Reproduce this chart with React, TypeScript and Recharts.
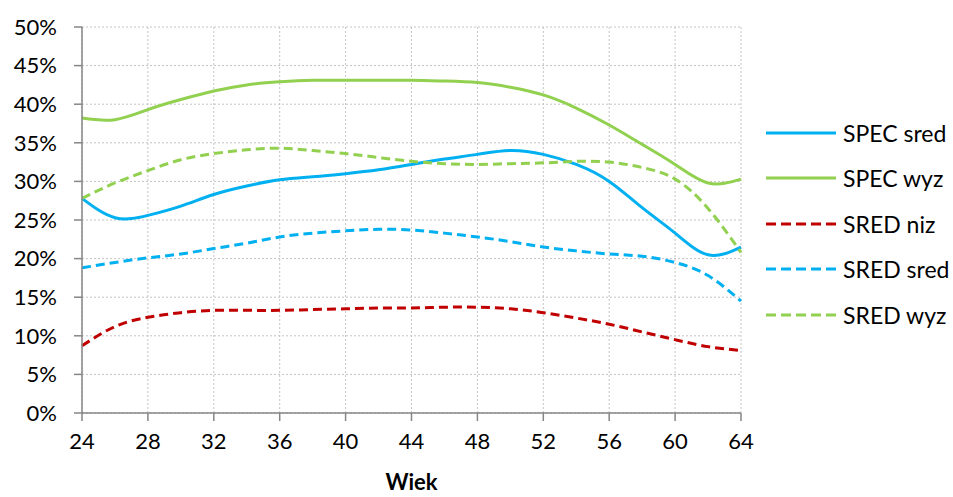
import { LineChart, Line, XAxis, YAxis, CartesianGrid } from 'recharts';

const ages = [24, 26, 28, 30, 32, 34, 36, 38, 40, 42, 44, 46, 48, 50, 52, 54, 56, 58, 60, 62, 64];
const specSred = [27.8, 25.3, 25.6, 26.8, 28.3, 29.4, 30.2, 30.6, 31.0, 31.5, 32.2, 32.9, 33.5, 34.0, 33.5, 32.2, 30.0, 26.6, 23.3, 20.5, 21.5];
const specWyz = [38.2, 38.0, 39.3, 40.6, 41.7, 42.5, 42.9, 43.1, 43.1, 43.1, 43.1, 43.0, 42.8, 42.2, 41.2, 39.5, 37.3, 34.8, 32.2, 29.8, 30.3];
const sredNiz = [8.7, 11.2, 12.4, 13.0, 13.3, 13.3, 13.3, 13.4, 13.5, 13.6, 13.6, 13.7, 13.7, 13.5, 13.0, 12.3, 11.5, 10.5, 9.5, 8.6, 8.1];
const sredSred = [18.8, 19.5, 20.1, 20.6, 21.3, 22.0, 22.8, 23.3, 23.6, 23.8, 23.7, 23.3, 22.8, 22.2, 21.5, 21.0, 20.6, 20.3, 19.5, 17.8, 14.5];
const sredWyz = [27.8, 29.8, 31.4, 32.8, 33.6, 34.1, 34.3, 34.0, 33.6, 33.1, 32.6, 32.3, 32.2, 32.3, 32.4, 32.6, 32.5, 31.8, 30.3, 26.5, 20.8];

const xTicks = [24, 28, 32, 36, 40, 44, 48, 52, 56, 60, 64];
const yTicks = [0, 5, 10, 15, 20, 25, 30, 35, 40, 45, 50];

const series = [
    { key: 'specSred', name: 'SPEC sred', color: '#00B0F0', dash: undefined },
    { key: 'specWyz', name: 'SPEC wyz', color: '#92D050', dash: undefined },
    { key: 'sredNiz', name: 'SRED niz', color: '#C00000', dash: '9 5' },
    { key: 'sredSred', name: 'SRED sred', color: '#00B0F0', dash: '9 5' },
    { key: 'sredWyz', name: 'SRED wyz', color: '#92D050', dash: '9 5' },
];

const data = ages.map((age, i) => ({
    age,
    specSred: specSred[i],
    specWyz: specWyz[i],
    sredNiz: sredNiz[i],
    sredSred: sredSred[i],
    sredWyz: sredWyz[i],
}));

const font = 'Lato, "Open Sans", sans-serif';

export default function App() {
    return (
        <div style={{ position: 'absolute', left: 0, top: 0, width: 953, height: 497, fontFamily: font }}>
            <LineChart width={953} height={497} data={data} margin={{ top: 27, right: 212, left: 0, bottom: 0 }}>
                <CartesianGrid stroke="#c4c4c4" strokeDasharray="2 2" />
                <XAxis
                    dataKey="age"
                    type="number"
                    domain={[24, 64]}
                    ticks={xTicks}
                    height={84}
                    stroke="#868686"
                    strokeWidth={1.5}
                    tickSize={8}
                    tickMargin={12}
                    tick={{ fill: '#000', fontSize: 22, fontFamily: font }}
                    label={{ value: 'Wiek', position: 'insideBottom', offset: 7, fill: '#000', fontSize: 22, fontWeight: 'bold', fontFamily: font }}
                />
                <YAxis
                    type="number"
                    domain={[0, 50]}
                    ticks={yTicks}
                    width={82}
                    stroke="#868686"
                    strokeWidth={1.5}
                    tickSize={8}
                    tickMargin={17}
                    tickFormatter={(v) => `${v}%`}
                    tick={{ fill: '#000', fontSize: 22, fontFamily: font }}
                />
                {series.map((s) => (
                    <Line
                        key={s.key}
                        type="natural"
                        dataKey={s.key}
                        name={s.name}
                        stroke={s.color}
                        strokeWidth={3}
                        strokeDasharray={s.dash}
                        dot={false}
                        isAnimationActive={false}
                    />
                ))}
            </LineChart>
            <div style={{ position: 'absolute', left: 766, top: 110 }}>
                {series.map((s) => (
                    <div key={s.key} style={{ display: 'flex', alignItems: 'center', height: 45.5 }}>
                        <svg width={70} height={6} style={{ marginRight: 7 }}>
                            <line x1={0} y1={3} x2={70} y2={3} stroke={s.color} strokeWidth={3} strokeDasharray={s.dash ? '10 5' : undefined} />
                        </svg>
                        <span style={{ fontSize: 23, color: '#000', whiteSpace: 'nowrap' }}>{s.name}</span>
                    </div>
                ))}
            </div>
        </div>
    );
}
